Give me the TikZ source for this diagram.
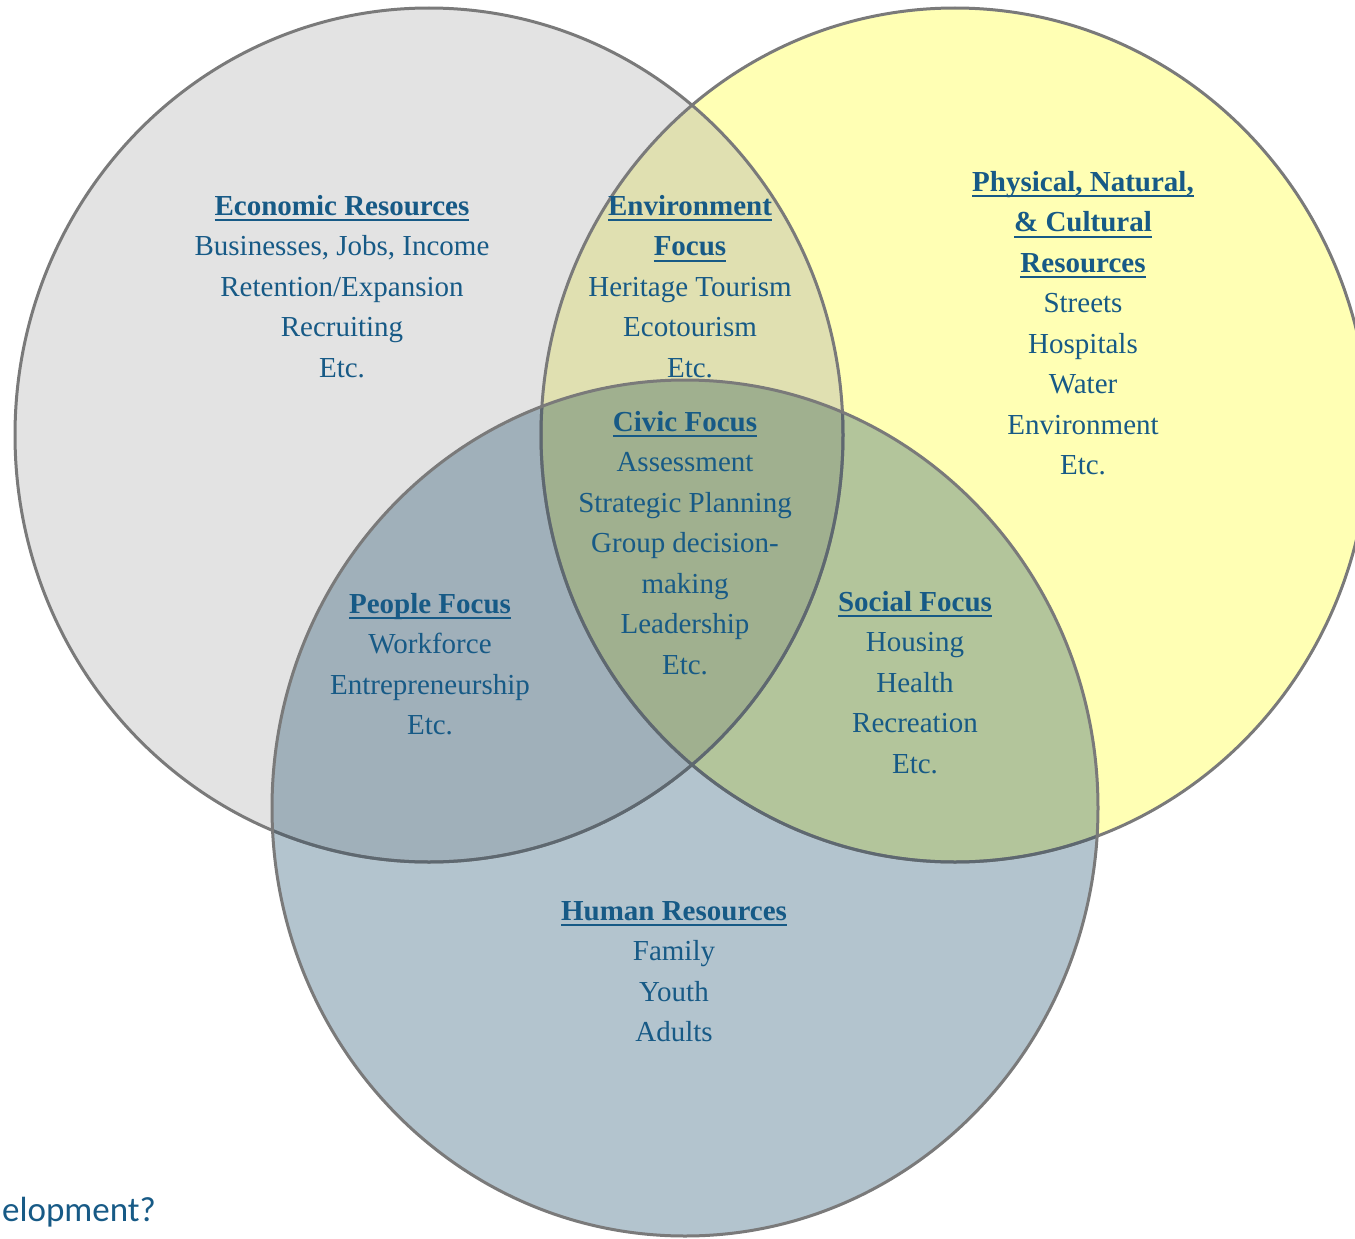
\documentclass[tikz,border=0pt]{standalone}
\usepackage{fontspec}
\setmainfont{Liberation Serif}
\newfontfamily\calib{Carlito}
\definecolor{cgray}{HTML}{E3E3E3}
\definecolor{cyel}{HTML}{FFFFB4}
\definecolor{cblue}{HTML}{B3C4CE}
\definecolor{cgy}{HTML}{E0E0B1}
\definecolor{cgb}{HTML}{A0B0BA}
\definecolor{cyb}{HTML}{B3C59B}
\definecolor{cgyb}{HTML}{A0B08F}
\definecolor{cline}{HTML}{7A7A7A}
\definecolor{cdark}{HTML}{5E6870}
\definecolor{tc}{HTML}{175A86}
\newcommand\hdr[1]{\setbox0\hbox{\textbf{#1}}\rlap{\rule[-6pt]{\wd0}{2pt}}\box0}
\newcommand\st{\rule{0pt}{20pt}}
\begin{document}
\begin{tikzpicture}[x=1pt,y=-1pt,
  txt/.style={align=center, inner sep=0pt, anchor=north, text=tc,
    font=\fontsize{29}{40.5}\selectfont},
  outl/.style={line width=3pt}]
\useasboundingbox (0,0) rectangle (1355,1239);
\clip (0,0) rectangle (1355,1239);
\def\EG{(429,435) ellipse [x radius=414pt, y radius=427pt]}
\def\EY{(955,435) ellipse [x radius=414pt, y radius=427pt]}
\def\EB{(685,808) ellipse [x radius=413pt, y radius=428pt]}
% fills
\fill[cgray] \EG;
\fill[cyel] \EY;
\fill[cblue] \EB;
\begin{scope}\clip \EG; \fill[cgy] \EY; \end{scope}
\begin{scope}\clip \EG; \fill[cgb] \EB; \end{scope}
\begin{scope}\clip \EY; \fill[cyb] \EB; \end{scope}
\begin{scope}\clip \EG; \clip \EY; \fill[cgyb] \EB; \end{scope}
% outlines
\draw[outl, cline] \EG;
\draw[outl, cline] \EY;
\begin{scope}\clip \EB;
  \draw[outl, cdark] \EG;
  \draw[outl, cdark] \EY;
\end{scope}
\draw[outl, cline] \EB;
% texts
\node[txt] (econ) at (342,195) {\st\hdr{Economic Resources}\\Businesses, Jobs, Income\\Retention/Expansion\\Recruiting\\Etc.};
\node[txt] (env) at (690,195) {\st\hdr{Environment}\\\hdr{Focus}\\Heritage Tourism\\Ecotourism\\Etc.};
\node[txt] (phys) at (1083,171) {\st\hdr{Physical, Natural,}\\\hdr{\& Cultural}\\\hdr{Resources}\\Streets\\Hospitals\\Water\\Environment\\Etc.};
\node[txt] (civic) at (685,411) {\st\hdr{Civic Focus}\\Assessment\\Strategic Planning\\Group decision-\\making\\Leadership\\Etc.};
\node[txt] (people) at (430,593) {\st\hdr{People Focus}\\Workforce\\Entrepreneurship\\Etc.};
\node[txt] (social) at (915,591) {\st\hdr{Social Focus}\\Housing\\Health\\Recreation\\Etc.};
\node[txt] (human) at (674,900) {\st\hdr{Human Resources}\\Family\\Youth\\Adults};
\node[anchor=base east, inner sep=0pt, text=tc, font=\calib\fontsize{35}{40}\selectfont] (dev) at (156,1221) {elopment?};
\end{tikzpicture}
\end{document}
